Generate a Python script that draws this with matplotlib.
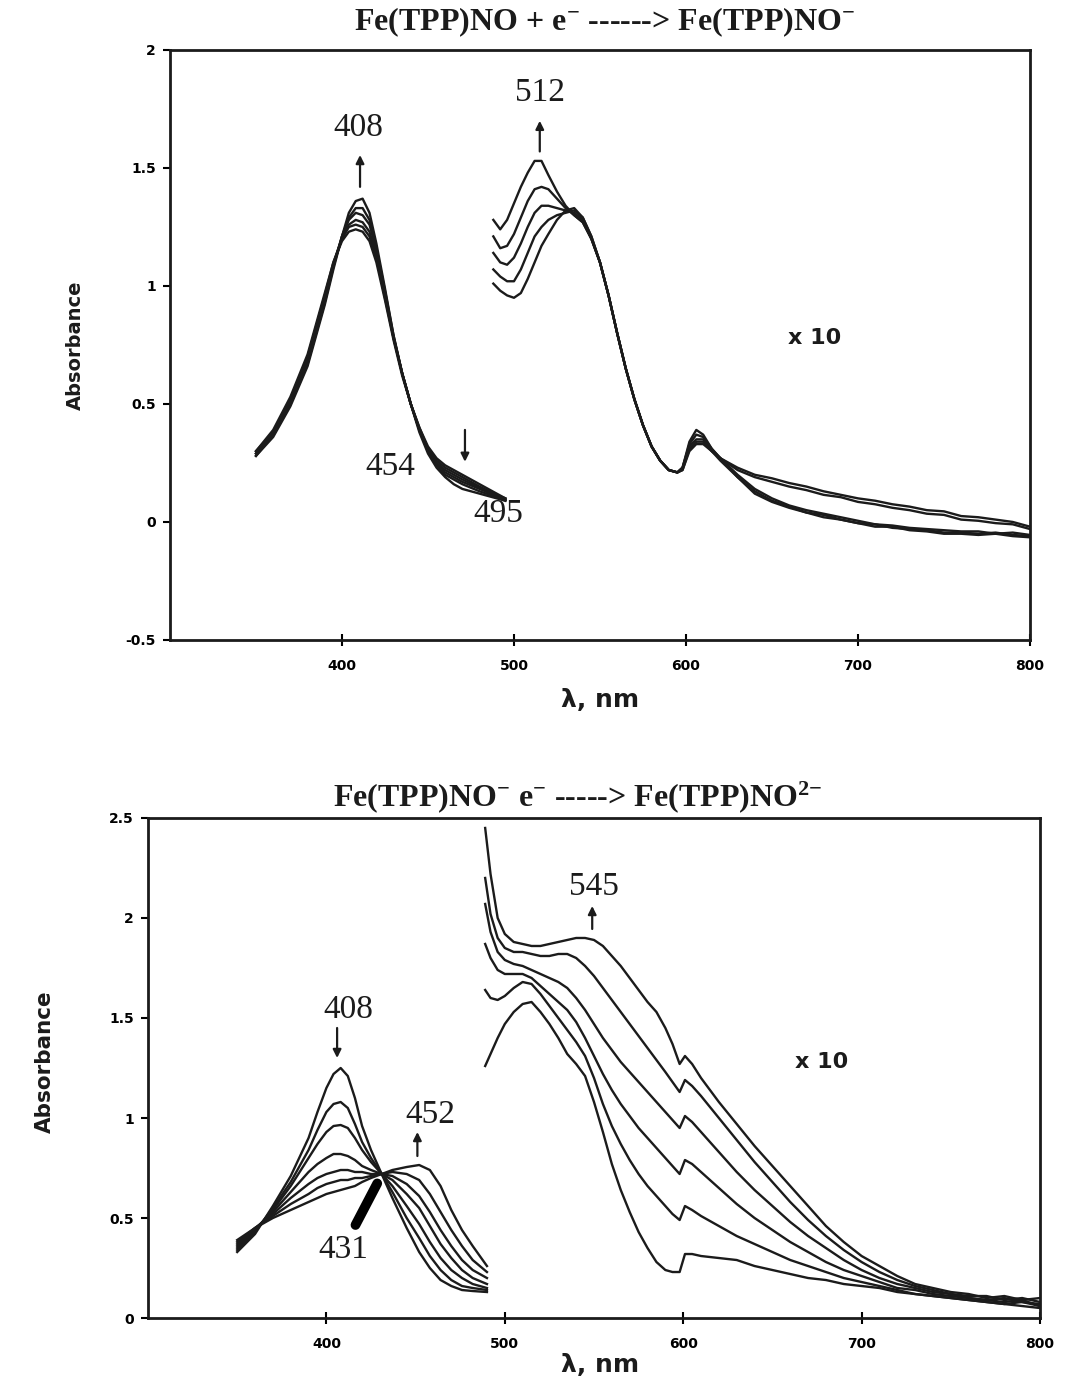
import matplotlib
matplotlib.use('Agg')
import matplotlib.pyplot as plt
from matplotlib.ticker import FuncFormatter

plt.rcParams['mathtext.fontset'] = 'custom'
plt.rcParams['mathtext.rm'] = 'Liberation Serif:bold'
plt.rcParams['mathtext.default'] = 'rm'

# ---- upper panel: Fe(TPP)NO + e- ----
# Soret band, 6 scans (first = final scan)
soret_nm = [350, 360, 370, 380, 390, 395, 400, 404, 408, 412, 416, 420, 425,
            430, 435, 440, 445, 450, 455, 460, 465, 470, 480, 490, 495]
soret_1 = [0.28, 0.36, 0.49, 0.66, 0.92, 1.07, 1.21, 1.31, 1.36, 1.37, 1.31, 1.18, 0.99,
           0.79, 0.63, 0.50, 0.38, 0.29, 0.23, 0.19, 0.16, 0.14, 0.12, 0.10, 0.09]
soret_2 = [0.28, 0.37, 0.50, 0.67, 0.93, 1.08, 1.21, 1.29, 1.33, 1.33, 1.28, 1.16, 0.98,
           0.79, 0.63, 0.50, 0.39, 0.30, 0.24, 0.20, 0.18, 0.16, 0.13, 0.105, 0.09]
soret_3 = [0.29, 0.37, 0.50, 0.68, 0.94, 1.09, 1.21, 1.28, 1.31, 1.30, 1.26, 1.15, 0.97,
           0.78, 0.63, 0.50, 0.39, 0.30, 0.25, 0.21, 0.19, 0.17, 0.14, 0.11, 0.095]
soret_4 = [0.29, 0.38, 0.51, 0.69, 0.95, 1.09, 1.20, 1.26, 1.28, 1.27, 1.23, 1.13, 0.96,
           0.78, 0.63, 0.50, 0.39, 0.31, 0.25, 0.22, 0.20, 0.18, 0.145, 0.11, 0.095]
soret_5 = [0.30, 0.38, 0.52, 0.70, 0.96, 1.10, 1.20, 1.25, 1.26, 1.25, 1.21, 1.12, 0.95,
           0.78, 0.63, 0.50, 0.40, 0.31, 0.26, 0.23, 0.21, 0.19, 0.15, 0.115, 0.10]
soret_6 = [0.30, 0.39, 0.53, 0.71, 0.97, 1.10, 1.19, 1.23, 1.24, 1.23, 1.19, 1.10, 0.94,
           0.77, 0.62, 0.50, 0.40, 0.32, 0.27, 0.24, 0.22, 0.20, 0.16, 0.12, 0.10]

# visible band (x 10), 5 scans
vis_nm = [488, 492, 496, 500, 504, 508, 512, 516, 520, 525, 530, 535, 540, 545, 550,
          555, 560, 565, 570, 575, 580, 585, 590, 595, 598, 602, 606, 610, 615, 620,
          630, 640, 650, 660, 670, 680, 690, 700, 710, 720, 730, 740, 750, 760, 770,
          780, 790, 800]
vis_1 = [1.28, 1.24, 1.28, 1.35, 1.42, 1.48, 1.53, 1.53, 1.47, 1.40, 1.34, 1.30, 1.27, 1.20, 1.10,
         0.96, 0.80, 0.65, 0.52, 0.41, 0.32, 0.26, 0.22, 0.21, 0.23, 0.34, 0.39, 0.37, 0.31, 0.27,
         0.19, 0.13, 0.09, 0.065, 0.04, 0.03, 0.01, -0.005, -0.01, -0.025, -0.03, -0.035, -0.045,
         -0.045, -0.05, -0.045, -0.055, -0.06]
vis_2 = [1.21, 1.16, 1.17, 1.22, 1.29, 1.36, 1.41, 1.42, 1.41, 1.37, 1.33, 1.30, 1.27, 1.20, 1.10,
         0.96, 0.80, 0.65, 0.52, 0.41, 0.32, 0.26, 0.22, 0.21, 0.23, 0.33, 0.37, 0.36, 0.31, 0.27,
         0.20, 0.14, 0.10, 0.07, 0.05, 0.035, 0.02, 0.005, -0.01, -0.015, -0.025, -0.03, -0.035,
         -0.04, -0.04, -0.05, -0.045, -0.055]
vis_3 = [1.14, 1.10, 1.09, 1.12, 1.18, 1.25, 1.31, 1.34, 1.34, 1.33, 1.32, 1.31, 1.28, 1.20, 1.10,
         0.96, 0.80, 0.65, 0.52, 0.41, 0.32, 0.26, 0.22, 0.21, 0.23, 0.32, 0.35, 0.35, 0.30, 0.26,
         0.19, 0.12, 0.085, 0.06, 0.04, 0.02, 0.01, -0.005, -0.02, -0.02, -0.035, -0.04, -0.05,
         -0.05, -0.055, -0.05, -0.06, -0.065]
vis_4 = [1.07, 1.04, 1.02, 1.02, 1.07, 1.14, 1.21, 1.25, 1.28, 1.30, 1.31, 1.32, 1.29, 1.21, 1.10,
         0.96, 0.80, 0.65, 0.52, 0.41, 0.32, 0.26, 0.22, 0.21, 0.22, 0.31, 0.34, 0.34, 0.30, 0.27,
         0.22, 0.19, 0.17, 0.15, 0.135, 0.115, 0.105, 0.085, 0.075, 0.06, 0.05, 0.035, 0.03,
         0.01, 0.005, -0.005, -0.01, -0.03]
vis_5 = [1.01, 0.98, 0.96, 0.95, 0.97, 1.03, 1.10, 1.17, 1.22, 1.28, 1.32, 1.33, 1.29, 1.21, 1.10,
         0.96, 0.80, 0.65, 0.52, 0.41, 0.32, 0.26, 0.22, 0.21, 0.22, 0.30, 0.33, 0.33, 0.30, 0.27,
         0.23, 0.20, 0.185, 0.165, 0.15, 0.13, 0.115, 0.10, 0.09, 0.075, 0.065, 0.05, 0.045,
         0.025, 0.02, 0.01, 0.0, -0.02]

# ---- lower panel: Fe(TPP)NO- + e- ----
soret2_nm = [350, 360, 370, 380, 390, 395, 400, 404, 408, 412, 416, 420, 425, 431,
             437, 445, 452, 458, 464, 470, 476, 482, 490]
soret2_1 = [0.33, 0.42, 0.56, 0.71, 0.90, 1.03, 1.15, 1.22, 1.25, 1.21, 1.10, 0.96, 0.84, 0.72,
            0.60, 0.45, 0.33, 0.25, 0.19, 0.16, 0.14, 0.135, 0.13]
soret2_2 = [0.34, 0.43, 0.55, 0.68, 0.84, 0.94, 1.03, 1.07, 1.08, 1.05, 0.97, 0.88, 0.80, 0.72,
            0.63, 0.50, 0.40, 0.31, 0.24, 0.19, 0.16, 0.15, 0.14]
soret2_3 = [0.35, 0.44, 0.54, 0.66, 0.80, 0.87, 0.93, 0.96, 0.965, 0.95, 0.90, 0.84, 0.78, 0.72,
            0.66, 0.56, 0.47, 0.38, 0.30, 0.24, 0.20, 0.17, 0.15]
soret2_4 = [0.36, 0.44, 0.53, 0.63, 0.73, 0.77, 0.80, 0.82, 0.82, 0.81, 0.79, 0.76, 0.74, 0.72,
            0.69, 0.62, 0.55, 0.46, 0.37, 0.30, 0.24, 0.20, 0.17]
soret2_5 = [0.37, 0.45, 0.52, 0.60, 0.67, 0.70, 0.72, 0.73, 0.74, 0.74, 0.73, 0.73, 0.72, 0.72,
            0.71, 0.67, 0.61, 0.53, 0.44, 0.36, 0.29, 0.24, 0.20]
soret2_6 = [0.38, 0.45, 0.51, 0.57, 0.62, 0.65, 0.67, 0.68, 0.69, 0.69, 0.70, 0.70, 0.71, 0.72,
            0.73, 0.72, 0.69, 0.62, 0.53, 0.44, 0.36, 0.29, 0.23]
soret2_7 = [0.39, 0.45, 0.50, 0.54, 0.58, 0.60, 0.62, 0.63, 0.64, 0.65, 0.66, 0.68, 0.70, 0.72,
            0.74, 0.755, 0.765, 0.74, 0.66, 0.54, 0.44, 0.36, 0.26]

vis2_nm = [489, 492, 496, 500, 505, 510, 515, 520, 525, 530, 535, 540, 545, 550, 555, 560,
           565, 570, 575, 580, 585, 590, 594, 598, 601, 605, 610, 620, 630, 640, 650, 660,
           670, 680, 690, 700, 710, 720, 730, 740, 750, 760, 770, 780, 790, 800]
vis2_1 = [1.26, 1.32, 1.40, 1.47, 1.53, 1.57, 1.58, 1.53, 1.47, 1.40, 1.32, 1.27, 1.21, 1.08, 0.93,
          0.77, 0.64, 0.53, 0.43, 0.35, 0.28, 0.24, 0.23, 0.23, 0.32, 0.32, 0.31, 0.30, 0.29, 0.26,
          0.24, 0.22, 0.20, 0.19, 0.17, 0.16, 0.15, 0.13, 0.12, 0.11, 0.10, 0.09, 0.08, 0.07, 0.08, 0.06]
vis2_2 = [1.64, 1.60, 1.59, 1.61, 1.65, 1.68, 1.67, 1.62, 1.56, 1.50, 1.44, 1.38, 1.31, 1.20, 1.07,
          0.96, 0.87, 0.79, 0.72, 0.66, 0.61, 0.56, 0.52, 0.49, 0.56, 0.54, 0.51, 0.46, 0.41, 0.37,
          0.33, 0.29, 0.26, 0.23, 0.20, 0.18, 0.16, 0.14, 0.12, 0.11, 0.10, 0.09, 0.08, 0.07, 0.06, 0.05]
vis2_3 = [1.87, 1.80, 1.74, 1.72, 1.72, 1.72, 1.70, 1.66, 1.62, 1.58, 1.54, 1.48, 1.40, 1.31, 1.22,
          1.14, 1.07, 1.01, 0.95, 0.90, 0.85, 0.80, 0.76, 0.72, 0.79, 0.77, 0.73, 0.65, 0.57, 0.50,
          0.44, 0.38, 0.33, 0.28, 0.24, 0.21, 0.18, 0.15, 0.14, 0.12, 0.11, 0.10, 0.09, 0.08, 0.09, 0.06]
vis2_4 = [2.07, 1.93, 1.83, 1.79, 1.77, 1.76, 1.74, 1.72, 1.70, 1.68, 1.65, 1.60, 1.54, 1.47, 1.40,
          1.34, 1.28, 1.23, 1.18, 1.13, 1.08, 1.03, 0.99, 0.95, 1.01, 0.98, 0.93, 0.83, 0.73, 0.64,
          0.56, 0.48, 0.41, 0.35, 0.29, 0.24, 0.20, 0.17, 0.15, 0.13, 0.12, 0.10, 0.09, 0.10, 0.08, 0.07]
vis2_5 = [2.20, 2.02, 1.90, 1.85, 1.83, 1.83, 1.82, 1.81, 1.81, 1.82, 1.82, 1.80, 1.76, 1.71, 1.65,
          1.59, 1.53, 1.47, 1.41, 1.35, 1.29, 1.23, 1.18, 1.13, 1.19, 1.16, 1.11, 1.00, 0.89, 0.78,
          0.68, 0.58, 0.49, 0.41, 0.34, 0.28, 0.23, 0.19, 0.16, 0.14, 0.12, 0.11, 0.11, 0.09, 0.10, 0.08]
vis2_6 = [2.45, 2.22, 2.00, 1.92, 1.88, 1.87, 1.86, 1.86, 1.87, 1.88, 1.89, 1.90, 1.90, 1.89, 1.86,
          1.81, 1.76, 1.70, 1.64, 1.58, 1.53, 1.45, 1.37, 1.27, 1.31, 1.27, 1.20, 1.08, 0.97, 0.86,
          0.76, 0.66, 0.56, 0.46, 0.38, 0.31, 0.26, 0.21, 0.17, 0.15, 0.13, 0.12, 0.10, 0.11, 0.09, 0.10]

x_ticks = [400, 500, 600, 700, 800]
top_yticks = [-0.5, 0, 0.5, 1, 1.5, 2]
bot_yticks = [0, 0.5, 1, 1.5, 2, 2.5]

ink = '#1b1b1b'
sans = 'DejaVu Sans'
serif = 'Liberation Serif'

fig = plt.figure(figsize=(10.67, 13.81), dpi=100)
ax1 = fig.add_axes([0.1593, 0.5366, 0.806, 0.4272])
ax2 = fig.add_axes([0.1387, 0.0456, 0.836, 0.3621])


def style_axes(ax, yticks):
    ax.set_xlim(300, 800)
    ax.set_ylim(yticks[0], yticks[-1])
    ax.set_xticks(x_ticks)
    ax.set_yticks(yticks)
    ax.yaxis.set_major_formatter(FuncFormatter(lambda v, p: '%g' % v))
    for s in ax.spines.values():
        s.set_linewidth(2.0)
        s.set_color(ink)
    ax.tick_params(axis='y', direction='out', length=5, width=1.5, pad=5, labelsize=10)
    ax.tick_params(axis='x', direction='inout', length=9, width=1.5, pad=9, labelsize=10)
    for lab in ax.get_xticklabels() + ax.get_yticklabels():
        lab.set_fontfamily(sans)
        lab.set_fontweight('bold')


def arrow(ax, x, y0, y1):
    ax.annotate('', xy=(x, y1), xytext=(x, y0),
                arrowprops=dict(arrowstyle='-|>', color=ink, lw=1.6,
                                mutation_scale=12, shrinkA=0, shrinkB=0))


line_kw = dict(color=ink, lw=1.7, solid_joinstyle='round')

# upper panel
for s in [soret_1, soret_2, soret_3, soret_4, soret_5, soret_6]:
    ax1.plot(soret_nm, s, **line_kw)
for s in [vis_1, vis_2, vis_3, vis_4, vis_5]:
    ax1.plot(vis_nm, s, **line_kw)
style_axes(ax1, top_yticks)

num_kw = dict(fontfamily=serif, fontsize=24, ha='center', va='center', color=ink)
ax1.text(409.5, 1.67, '408', **num_kw)
arrow(ax1, 410.5, 1.42, 1.555)
ax1.text(515, 1.82, '512', **num_kw)
arrow(ax1, 515, 1.57, 1.70)
ax1.text(428, 0.235, '454', **num_kw)
ax1.text(491, 0.035, '495', **num_kw)
arrow(ax1, 471.5, 0.39, 0.255)
ax1.text(675, 0.78, 'x 10', fontfamily=sans, fontweight='bold', fontsize=16,
         ha='center', va='center', color=ink)

# lower panel
for s in [soret2_1, soret2_2, soret2_3, soret2_4, soret2_5, soret2_6, soret2_7]:
    ax2.plot(soret2_nm, s, **line_kw)
for s in [vis2_1, vis2_2, vis2_3, vis2_4, vis2_5, vis2_6]:
    ax2.plot(vis2_nm, s, **line_kw)
style_axes(ax2, bot_yticks)

ax2.text(412.5, 1.54, '408', **num_kw)
arrow(ax2, 406, 1.45, 1.30)
ax2.text(458.5, 1.015, '452', **num_kw)
arrow(ax2, 451, 0.81, 0.93)
ax2.text(409.7, 0.34, '431', **num_kw)
ax2.plot([416.3, 428.5], [0.465, 0.673], color='black', lw=7, solid_capstyle='round')
ax2.text(550, 2.155, '545', **num_kw)
arrow(ax2, 549, 1.945, 2.06)
ax2.text(677.5, 1.28, 'x 10', fontfamily=sans, fontweight='bold', fontsize=16,
         ha='center', va='center', color=ink)

# titles and axis labels
fig.text(0.567, 0.984, r'Fe(TPP)NO + e$^{-}$ ------> Fe(TPP)NO$^{-}$',
         fontfamily=serif, fontweight='bold', fontsize=23, ha='center', va='center', color=ink)
fig.text(0.5417, 0.4229, r'Fe(TPP)NO$^{-}$ e$^{-}$ -----> Fe(TPP)NO$^{2{-}}$',
         fontfamily=serif, fontweight='bold', fontsize=23, ha='center', va='center', color=ink)

lab_kw = dict(fontfamily=sans, fontweight='bold', ha='center', va='center', color=ink)
fig.text(0.0703, 0.750, 'Absorbance', rotation=90, fontsize=14, **lab_kw)
fig.text(0.0422, 0.231, 'Absorbance', rotation=90, fontsize=15.5, **lab_kw)
fig.text(0.562, 0.4931, 'λ, nm', fontsize=18, **lab_kw)
fig.text(0.562, 0.0116, 'λ, nm', fontsize=18, **lab_kw)

fig.savefig('out.png', dpi=100)
